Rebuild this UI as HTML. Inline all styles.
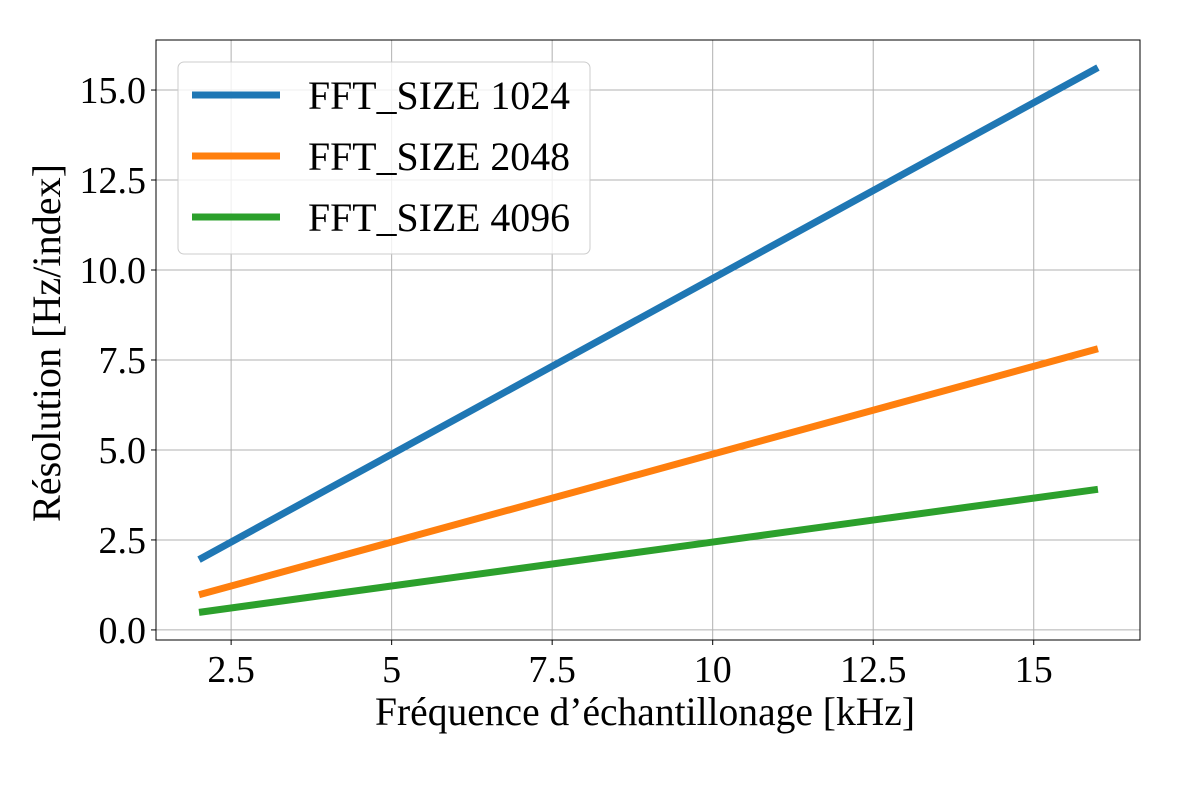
<!DOCTYPE html>
<html><head><meta charset="utf-8"><style>
body{margin:0;background:#fff}
svg text{font-family:"Liberation Serif",serif;fill:#000}
</style></head><body>
<svg id="chart" width="1200" height="800" xmlns="http://www.w3.org/2000/svg"></svg>
<script>
const xValues=[2,4,6,8,10,12,14,16];
const series1024=[1.953,3.906,5.859,7.813,9.766,11.719,13.672,15.625];
const series2048=[0.977,1.953,2.930,3.906,4.883,5.859,6.836,7.813];
const series4096=[0.488,0.977,1.465,1.953,2.441,2.930,3.418,3.906];
const seriesNames=["FFT_SIZE 1024","FFT_SIZE 2048","FFT_SIZE 4096"];
const xTicks=[2.5,5,7.5,10,12.5,15];
const xTickLabels=["2.5","5","7.5","10","12.5","15"];
const yTicks=[0,2.5,5,7.5,10,12.5,15];
const yTickLabels=["0.0","2.5","5.0","7.5","10.0","12.5","15.0"];

const L=156,R=1140,T=40,B=640;
const xMin=1.330,xMax=16.655,yMin=-0.28,yMax=16.39;
const sx=v=>L+(v-xMin)/(xMax-xMin)*(R-L);
const sy=v=>B-(v-yMin)/(yMax-yMin)*(B-T);
const svg=document.getElementById('chart');
const NS="http://www.w3.org/2000/svg";
function mk(tag,attrs,parent){const e=document.createElementNS(NS,tag);for(const k in attrs)e.setAttribute(k,attrs[k]);(parent||svg).appendChild(e);return e;}

xTicks.forEach((t,i)=>{
  const g=mk('line',{x1:sx(t),x2:sx(t),y1:T,y2:B,stroke:'#b0b0b0','stroke-width':1});
  
  
  mk('line',{x1:sx(t),x2:sx(t),y1:B,y2:B+5,stroke:'#000','stroke-width':1});
  const tx=mk('text',{x:sx(t),y:B+42,'text-anchor':'middle','font-size':38});
  tx.textContent=xTickLabels[i];
  
  
});
yTicks.forEach((t,i)=>{
  const g=mk('line',{x1:L,x2:R,y1:sy(t),y2:sy(t),stroke:'#b0b0b0','stroke-width':1});
  
  
  mk('line',{x1:L-5,x2:L,y1:sy(t),y2:sy(t),stroke:'#000','stroke-width':1});
  const tx=mk('text',{x:L-10,y:sy(t)+13,'text-anchor':'end','font-size':38});
  tx.textContent=yTickLabels[i];
  
  
});

const colors=['#1f77b4','#ff7f0e','#2ca02c'];
[series1024,series2048,series4096].forEach((s,k)=>{
  const p=mk('polyline',{points:s.map((v,i)=>sx(xValues[i])+','+sy(v)).join(' '),fill:'none',stroke:colors[k],'stroke-width':7});
  
  
});

const frame=mk('rect',{x:L,y:T,width:R-L,height:B-T,fill:'none',stroke:'#000','stroke-width':1});



const lg=mk('g',{});


mk('rect',{x:178,y:62,width:412,height:192,rx:6,fill:'rgba(255,255,255,0.8)',stroke:'#ccc','stroke-width':1},lg);
seriesNames.forEach((n,k)=>{
  const y=95+k*61;
  const l=mk('line',{x1:192,x2:280,y1:y,y2:y,stroke:colors[k],'stroke-width':7},lg);
  
  
  const t=mk('text',{x:308,y:y+14,'font-size':40,textLength:262,lengthAdjust:'spacingAndGlyphs'},lg);
  t.textContent=n;
  
  
});

const xt=mk('text',{x:645,y:725,'text-anchor':'middle','font-size':40,textLength:540,lengthAdjust:'spacingAndGlyphs'});
xt.textContent="Fréquence d’échantillonage [kHz]";


const yt=mk('text',{x:0,y:0,'text-anchor':'middle','font-size':40,textLength:358,lengthAdjust:'spacingAndGlyphs',transform:'translate(60,343) rotate(-90)'});
yt.textContent="Résolution [Hz/index]";


</script>
</body></html>
